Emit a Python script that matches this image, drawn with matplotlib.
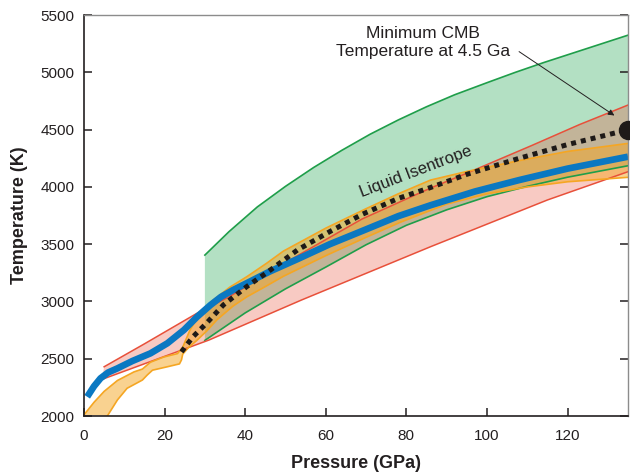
import numpy as np
import matplotlib
matplotlib.use("Agg")
import matplotlib.pyplot as plt

plt.rcParams['font.family'] = ['Liberation Sans', 'DejaVu Sans']

# melting / solidus bands (pressure in GPa, temperature in K)
green_up_p = [30, 36, 43, 50, 57, 64, 71, 78, 85, 92, 100, 107, 114, 121, 128, 135]
green_up_t = [3405, 3610, 3825, 4005, 4170, 4320, 4460, 4585, 4700, 4805, 4910, 5000, 5085, 5165, 5245, 5325]
green_lo_p = [30, 40, 50, 60, 70, 80, 90, 100, 110, 120, 135]
green_lo_t = [2660, 2900, 3110, 3300, 3495, 3665, 3800, 3915, 4005, 4085, 4185]

red_up_p = [5, 15, 28, 36, 53, 69, 86, 95, 111, 123, 135]
red_up_t = [2430, 2630, 2896, 3041, 3400, 3720, 3990, 4120, 4360, 4545, 4715]
red_lo_p = [4.5, 31, 54, 86, 115, 135]
red_lo_t = [2320, 2663, 3013, 3478, 3886, 4133]

orange_up_p = [0, 2.5, 5, 8.3, 12.4, 14.5, 16.5, 19.8, 23.2, 24.5, 26.3, 28.8, 32.1,
               36.2, 40.4, 45.3, 49.5, 60, 70, 78, 86, 95, 108, 120, 135]
orange_up_t = [2010, 2120, 2215, 2310, 2385, 2410, 2470, 2515, 2545, 2600, 2751, 2897, 3013,
               3125, 3216, 3333, 3440, 3640, 3810, 3940, 4060, 4135, 4230, 4310, 4380]
orange_lo_p = [5.8, 8.3, 10.7, 14.5, 15.7, 17, 20.7, 23.7, 24.2, 24.5, 26, 28, 30.4, 33,
               37, 40.4, 45, 49.5, 60, 70, 78.4, 90, 100, 110, 120, 135]
orange_lo_t = [2000, 2140, 2242, 2314, 2358, 2400, 2430, 2455, 2490, 2540, 2600, 2660, 2740, 2840,
               2960, 3040, 3130, 3220, 3400, 3560, 3690, 3850, 3940, 4000, 4045, 4084]

# blue core adiabat and the liquid isentrope
blue_p = [0.8, 2.5, 4.1, 6, 8.3, 12, 16.5, 20.7, 24.8, 28.1, 31.4, 34, 37, 40.4, 46, 53,
          61, 69, 78, 86, 97, 108, 120, 135]
blue_t = [2168, 2260, 2329, 2380, 2416, 2480, 2547, 2635, 2751, 2867, 2969, 3040, 3100, 3160, 3260, 3370,
          3500, 3615, 3745, 3840, 3960, 4060, 4160, 4264]
isen_p = [24.2, 27, 30.4, 34.6, 40.4, 45.3, 53, 61, 69, 78, 86, 95, 108, 120, 132, 135]
isen_t = [2560, 2690, 2810, 2970, 3130, 3250, 3450, 3610, 3760, 3900, 3995, 4110, 4250, 4370, 4473, 4500]

cmb_p, cmb_t = 135, 4500

fig = plt.figure(figsize=(6.3, 4.73), dpi=100)
ax = fig.add_axes([0.1333, 0.1205, 0.8635, 0.8475])

GREEN = '#1f9e4a'
RED = '#e8503a'
ORANGE = '#f5a623'
INK = '#231f20'

# fills
ax.fill(np.r_[green_up_p, green_lo_p[::-1]], np.r_[green_up_t, green_lo_t[::-1]],
        color='#2eaa5a', alpha=0.36, lw=0)
ax.fill(np.r_[red_up_p, red_lo_p[::-1]], np.r_[red_up_t, red_lo_t[::-1]],
        color='#e8503a', alpha=0.3, lw=0)
ax.fill(np.r_[orange_up_p, orange_lo_p[::-1]], np.r_[orange_up_t, orange_lo_t[::-1]],
        color='#f5a623', alpha=0.5, lw=0)

# edges
ax.plot(green_up_p, green_up_t, color=GREEN, lw=1.2)
ax.plot(green_lo_p, green_lo_t, color=GREEN, lw=1.2)
ax.plot(red_up_p, red_up_t, color=RED, lw=1.1)
ax.plot(red_lo_p, red_lo_t, color=RED, lw=1.1)
ax.plot(orange_up_p, orange_up_t, color=ORANGE, lw=1.2)
ax.plot(orange_lo_p, orange_lo_t, color=ORANGE, lw=1.2)

ax.plot(blue_p, blue_t, color='#0a78c2', lw=4.8, solid_capstyle='butt', solid_joinstyle='round')
ax.plot(isen_p, isen_t, color='#1e1a18', lw=3.6, linestyle=(0, (1, 1)))
ax.plot([cmb_p], [cmb_t], 'o', color='#1e1a18', ms=13, clip_on=False, zorder=5)

ax.text(82.4, 4135, 'Liquid Isentrope', rotation=21, ha='center', va='center',
        fontsize=12, color=INK)
ax.annotate('', xy=(132.2, 4610), xytext=(107.4, 5195),
            arrowprops=dict(arrowstyle='-|>', color=INK, lw=0.7, mutation_scale=9))
ax.text(84.1, 5262, 'Minimum CMB\nTemperature at 4.5 Ga', ha='center', va='center',
        fontsize=12.5, color=INK, linespacing=1.3)

ax.set_xlim(0, 135)
ax.set_ylim(2000, 5500)
ax.set_xticks(range(0, 121, 20))
ax.set_yticks(range(2000, 5501, 500))
ax.tick_params(direction='in', length=5.5, width=1.1, labelsize=11, colors=INK,
               right=True)
ax.tick_params(axis='x', pad=9)
ax.tick_params(axis='y', pad=7)
for side in ['left', 'bottom']:
    ax.spines[side].set_color(INK)
    ax.spines[side].set_linewidth(1.2)
for side in ['top', 'right']:
    ax.spines[side].set_color('#8c8c8c')
    ax.spines[side].set_linewidth(1.0)

ax.set_xlabel('Pressure (GPa)', fontsize=13, fontweight='bold', color=INK, labelpad=9)
ax.set_ylabel('Temperature (K)', fontsize=13, fontweight='bold', color=INK, labelpad=9)

fig.savefig('out.png', dpi=100)
